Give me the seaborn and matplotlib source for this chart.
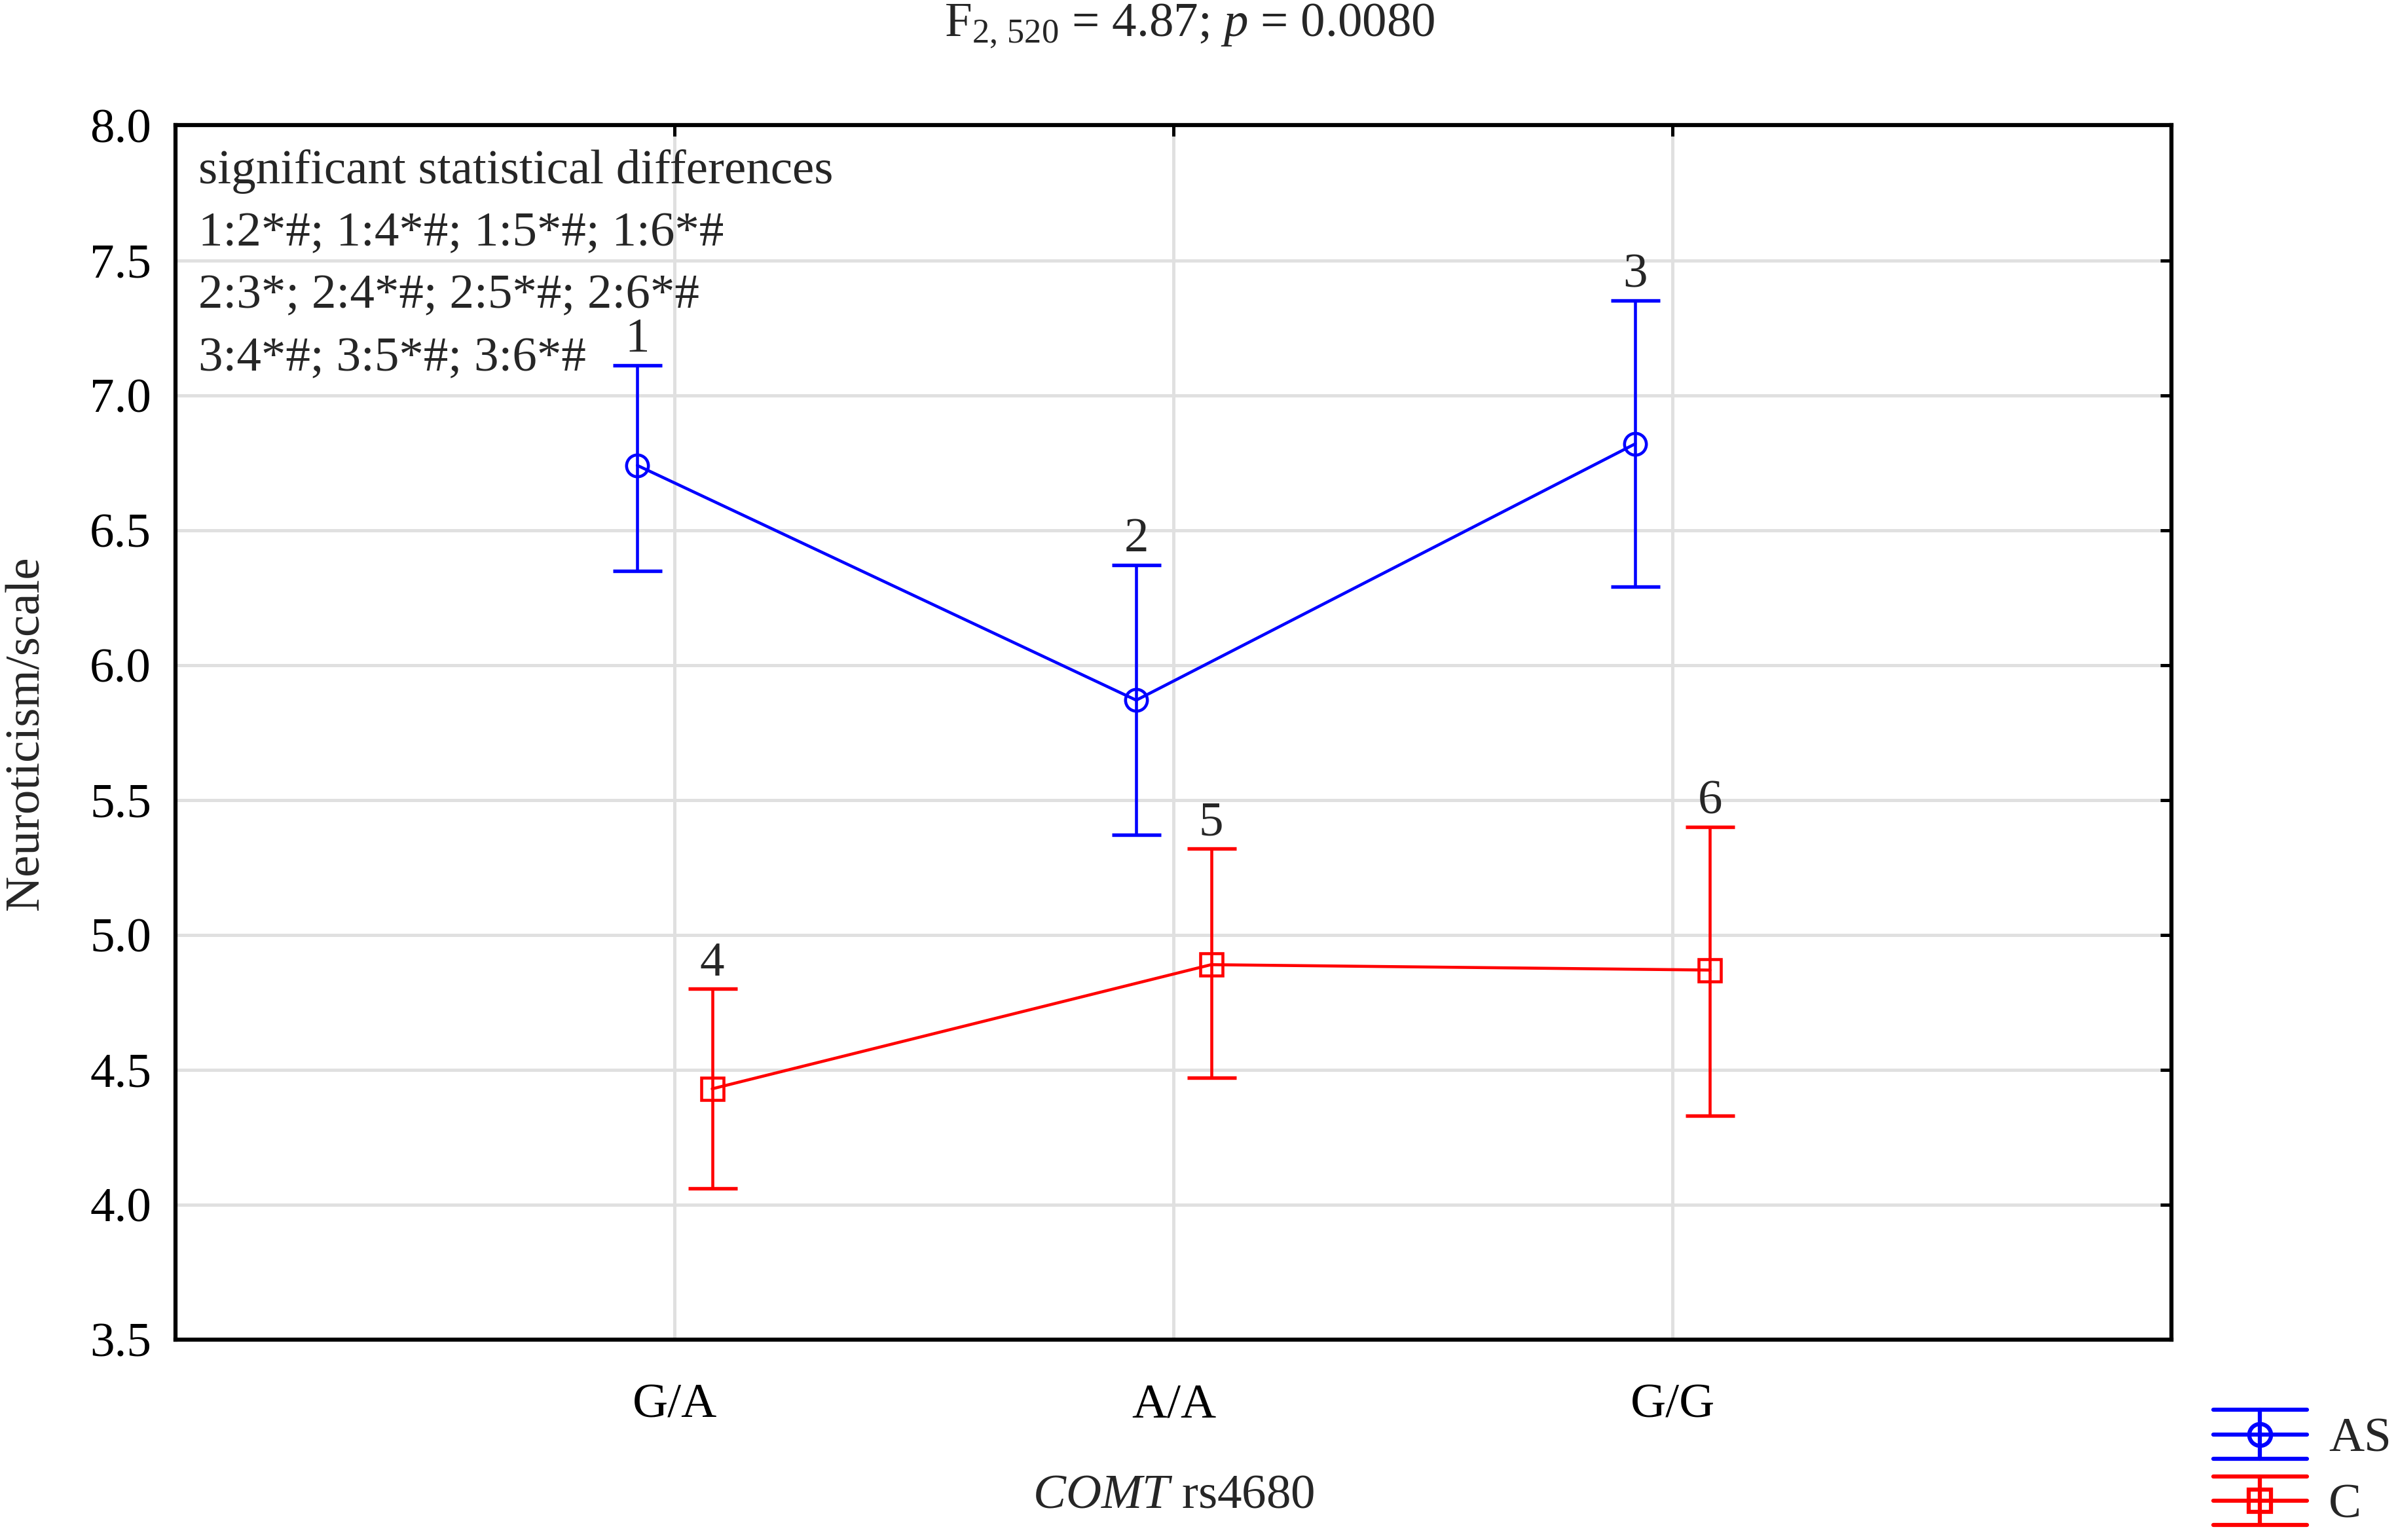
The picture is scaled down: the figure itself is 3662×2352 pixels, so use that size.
import matplotlib
matplotlib.use('Agg')
import pandas as pd
import matplotlib.pyplot as plt
import seaborn as sns
from matplotlib.lines import Line2D
from matplotlib.legend_handler import HandlerBase

# --- Datos ---
genotypes = ['G/A', 'A/A', 'G/G']
groups = ['AS', 'C']
as_mean = [6.74, 5.87, 6.82]
as_low = [6.35, 5.37, 6.29]
as_high = [7.11, 6.37, 7.35]
c_mean = [4.43, 4.89, 4.87]
c_low = [4.06, 4.47, 4.33]
c_high = [4.80, 5.32, 5.40]
as_labels = ['1', '2', '3']
c_labels = ['4', '5', '6']
yticks = [3.5, 4.0, 4.5, 5.0, 5.5, 6.0, 6.5, 7.0, 7.5, 8.0]
notes = ['significant statistical differences',
         '1:2*#; 1:4*#; 1:5*#; 1:6*#',
         '2:3*; 2:4*#; 2:5*#; 2:6*#',
         '3:4*#; 3:5*#; 3:6*#']
title_txt = r'F$_{2,\,520}$ = 4.87; $\it{p}$ = 0.0080'
xlabel_txt = r'$\it{COMT}$ rs4680'
ylabel_txt = 'Neuroticism/scale'

colors = {'AS': '#0000ff', 'C': '#ff0000'}
markers = {'AS': 'o', 'C': 's'}
shift = {'AS': -0.075, 'C': 0.075}

rows = []
for grp, means, lows, highs, labs in [('AS', as_mean, as_low, as_high, as_labels),
                                      ('C', c_mean, c_low, c_high, c_labels)]:
    for i, g in enumerate(genotypes):
        rows.append({'group': grp, 'genotype': g, 'pos': i + shift[grp],
                     'mean': means[i], 'low': lows[i], 'high': highs[i], 'label': labs[i]})
df = pd.DataFrame(rows)

sns.set_style('white')
plt.rcParams['font.family'] = ['Liberation Serif', 'DejaVu Serif']
plt.rcParams['mathtext.fontset'] = 'custom'
plt.rcParams['mathtext.rm'] = 'Liberation Serif'
plt.rcParams['mathtext.it'] = 'Liberation Serif:italic'
plt.rcParams['font.size'] = 18

fig = plt.figure(figsize=(3662 / 300, 2352 / 300), dpi=300)
ax = fig.add_axes([0.0733, 0.130, 0.8323, 0.7886])

sns.lineplot(data=df, x='pos', y='mean', hue='group', style='group', palette=colors,
             markers=markers, dashes=False, markersize=8, linewidth=1.1,
             legend=False, ax=ax, zorder=3)
for line in ax.lines:
    line.set_markerfacecolor('none')
    line.set_markeredgecolor(line.get_color())
    line.set_markeredgewidth(1.1)

for grp in groups:
    sub = df[df['group'] == grp]
    ax.errorbar(sub['pos'], sub['mean'],
                yerr=[sub['mean'] - sub['low'], sub['high'] - sub['mean']],
                fmt='none', ecolor=colors[grp], elinewidth=1.1, capsize=9, capthick=1.3,
                zorder=3)
    for _, r in sub.iterrows():
        ax.annotate(r['label'], (r['pos'], r['high']), xytext=(0, 5),
                    textcoords='offset points', ha='center', va='baseline', fontsize=18)

# notas de diferencias significativas
for k, t in enumerate(notes):
    ax.text(0.0115, 0.962 - k * 0.0515, t, transform=ax.transAxes,
            ha='left', va='center', fontsize=18)

ax.set_xlim(-1, 3)
ax.set_ylim(3.5, 8.0)
ax.set_xticks(range(len(genotypes)))
ax.set_xticklabels(genotypes)
ax.set_yticks(yticks)
ax.set_yticklabels([f'{v:.1f}' for v in yticks])
ax.grid(True, color='#e0e0e0', linewidth=1.2)
ax.set_axisbelow(True)
for s in ax.spines.values():
    s.set_visible(True)
    s.set_color('black')
    s.set_linewidth(1.5)
ax.tick_params(axis='both', direction='in', top=True, right=True, length=4, width=1.2,
               labelsize=18, colors='black')
ax.tick_params(axis='x', pad=16)
ax.tick_params(axis='y', pad=9)
ax.set_xlabel(xlabel_txt, fontsize=18, labelpad=17)
ax.set_ylabel(ylabel_txt, fontsize=18, labelpad=15)

fig.text(0.496, 0.983, title_txt, ha='center', va='center', fontsize=18)


# --- Leyenda con barras de error ---
class ErrorKey:
    def __init__(self, color, marker):
        self.color = color
        self.marker = marker


class ErrorKeyHandler(HandlerBase):
    def create_artists(self, legend, key, xd, yd, w, h, fs, trans):
        x0, x1 = -xd, -xd + w
        y0, y1 = -yd, -yd + h
        xm, ym = (x0 + x1) / 2, (y0 + y1) / 2
        arts = [Line2D([x0, x1], [y, y], color=key.color, lw=1.5) for y in (y0, ym, y1)]
        arts.append(Line2D([xm, xm], [y0, y1], color=key.color, lw=1.5))
        arts.append(Line2D([xm], [ym], marker=key.marker, mfc='none', mec=key.color,
                           mew=1.5, ms=8, ls='none'))
        for a in arts:
            a.set_transform(trans)
        return arts


handles = [ErrorKey(colors[g], markers[g]) for g in groups]
fig.legend(handles=handles, labels=groups, handler_map={ErrorKey: ErrorKeyHandler()},
           loc='lower left', bbox_to_anchor=(0.923, 0.008), bbox_transform=fig.transFigure,
           frameon=False, borderpad=0, borderaxespad=0, handlelength=1.9,
           handleheight=1.15, labelspacing=0.3, handletextpad=0.45, fontsize=18)

fig.savefig('out.png', dpi=300)
